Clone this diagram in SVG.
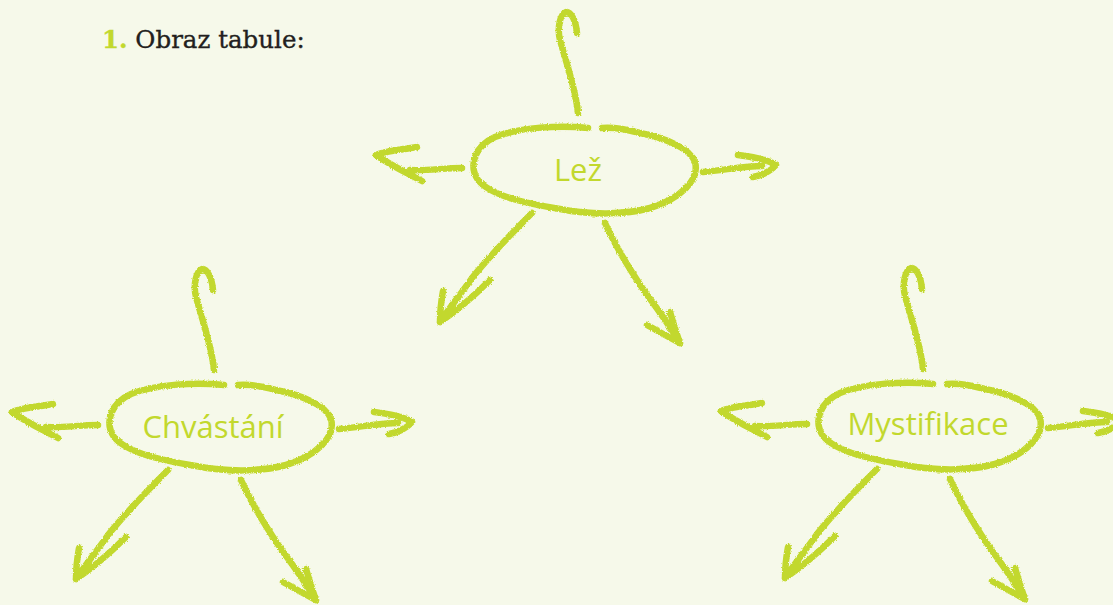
<svg xmlns="http://www.w3.org/2000/svg" xmlns:xlink="http://www.w3.org/1999/xlink" width="1113" height="605" viewBox="0 0 1113 605">
<style>
.chalk{fill:none;stroke:#c2d82d;stroke-width:6.5;stroke-linecap:round;stroke-linejoin:round}
.lbl{font-family:"Open Sans","Noto Sans",sans-serif;font-size:31px;fill:#c2d82d;text-anchor:middle}
.title{font-family:"DejaVu Serif",serif;font-size:24.5px;fill:#231f20;stroke:#231f20;stroke-width:0.35}
</style>
<defs>
<filter id="rough" x="-10%" y="-10%" width="120%" height="120%">
<feTurbulence type="fractalNoise" baseFrequency="0.8" numOctaves="2" seed="3" result="n"/>
<feDisplacementMap in="SourceGraphic" in2="n" scale="3" xChannelSelector="R" yChannelSelector="G"/>
</filter>
<path id="oval" class="chalk" filter="url(#rough)" d="M588,128 C560,125 520,127 495,137 C475,146 468,165 478,180 C492,197 530,204 560,209 C590,215 625,215 650,208 C680,199 700,180 695,162 C690,148 665,138 640,133 C625,129 612,127 602,128"/>
<g id="rays" class="chalk" filter="url(#rough)">
<path d="M578,113 C576,90 566,62 560,40 C557,28 560,14 566,12 C572,12 576,22 577,33"/>
<path d="M462,168 C445,168 425,171 410,170 M417,147 C400,150 385,151 376,155 C390,165 405,172 422,181"/>
<path d="M703,172 C725,170 745,166 762,166 M738,155 C755,157 768,160 776,165 C770,172 760,176 753,177"/>
<path d="M532,213 C510,235 488,258 472,278 C460,295 448,310 440,322 M443,291 C441,302 440,312 440,322 C455,312 475,295 490,280"/>
<path d="M605,223 C615,245 630,270 645,292 C660,312 672,330 680,343 M670,312 C674,325 677,335 680,343 C670,338 658,331 647,325"/>
</g>
</defs>
<rect width="1113" height="605" fill="#f6f9ea"/>
<text x="102" y="48" class="title"><tspan fill="#c2d82d" stroke="#c2d82d" font-weight="bold">1.</tspan> Obraz tabule:</text>
<g id="connectors">
<use xlink:href="#rays"/>
<use xlink:href="#rays" transform="translate(-364,257)"/>
<use xlink:href="#rays" transform="translate(345,256)"/>
</g>
<g id="node-lez">
<use xlink:href="#oval"/>
<text x="578" y="181" class="lbl">Lež</text>
</g>
<g id="node-chvastani" transform="translate(-364,257)">
<use xlink:href="#oval"/>
<text x="577" y="181" class="lbl">Chvástání</text>
</g>
<g id="node-mystifikace" transform="translate(345,256)">
<use xlink:href="#oval"/>
<text x="583" y="179" class="lbl">Mystifikace</text>
</g>
</svg>
